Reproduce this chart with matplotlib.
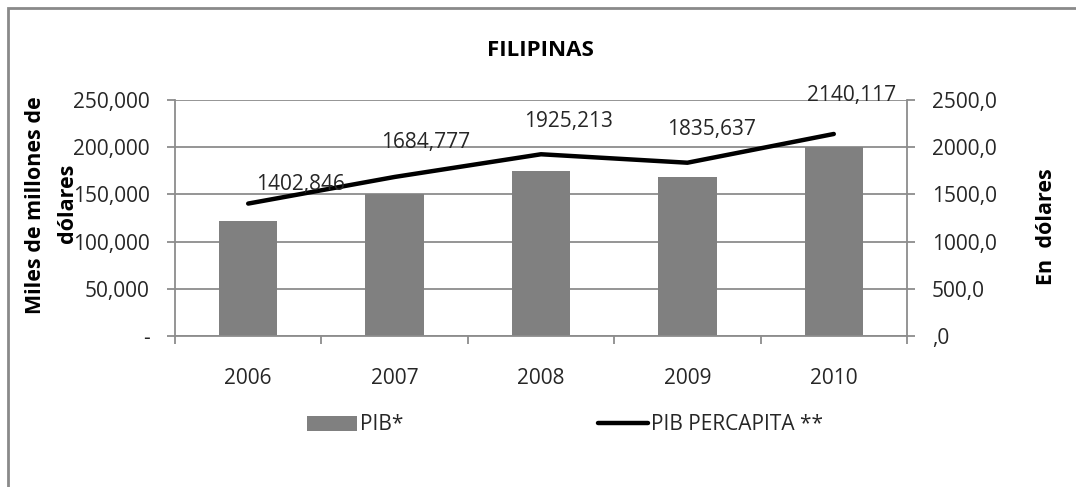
import matplotlib
matplotlib.use("Agg")
import matplotlib.pyplot as plt
from matplotlib.patches import Rectangle
from matplotlib.ticker import FixedLocator

years = ["2006", "2007", "2008", "2009", "2010"]
pib = [122000, 150000, 174500, 168500, 200500]
pib_percapita = [1402.846, 1684.777, 1925.213, 1835.637, 2140.117]
pib_labels = ["1402,846", "1684,777", "1925,213", "1835,637", "2140,117"]
left_ticks = [0, 50000, 100000, 150000, 200000, 250000]
left_ticklabels = ["-", "50,000", "100,000", "150,000", "200,000", "250,000"]
right_ticks = [0, 500, 1000, 1500, 2000, 2500]
right_ticklabels = [",0", "500,0", "1000,0", "1500,0", "2000,0", "2500,0"]

# label offsets in pixels (layout)
label_offsets = [(52, 19), (31, 34), (28, 33), (24, 33), (18, 38)]

plt.rcParams['font.family'] = ['Open Sans', 'DejaVu Sans']
GRID = "#8c8c8c"
TXT = "#262626"

fig = plt.figure(figsize=(10.76, 4.87), dpi=100)
ax = fig.add_axes([175/1076, 1-336/487, (907-175)/1076, (336-100)/487])

x = list(range(len(years)))
bars = ax.bar(x, pib, width=0.4, color="#808080", zorder=2, label="PIB*")
ax.set_xlim(-0.5, 4.5)
ax.set_ylim(0, 250000)
ax.set_yticks(left_ticks)
ax.set_yticklabels(left_ticklabels, fontsize=15, color=TXT)
ax.set_xticks(x)
ax.set_xticklabels(years, fontsize=15, color=TXT)
ax.xaxis.set_minor_locator(FixedLocator([-0.5, 0.5, 1.5, 2.5, 3.5, 4.5]))
ax.tick_params(axis='x', which='major', length=0, pad=23)
ax.tick_params(axis='x', which='minor', length=6, width=1.3, color=GRID, direction='out')
ax.tick_params(axis='y', length=6, width=1.3, color=GRID, pad=12)
ax.grid(axis='y', color=GRID, linewidth=1.3, zorder=0)
ax.set_axisbelow(True)
for s in ['top', 'right']:
    ax.spines[s].set_visible(False)
for s in ['left', 'bottom']:
    ax.spines[s].set_color(GRID)
    ax.spines[s].set_linewidth(1.3)

ax2 = ax.twinx()
line, = ax2.plot(x, pib_percapita, color="black", linewidth=3.2,
                 solid_capstyle='round', zorder=3, label="PIB PERCAPITA **")
ax2.set_ylim(0, 2500)
ax2.set_yticks(right_ticks)
ax2.set_yticklabels(right_ticklabels, fontsize=15, color=TXT)
ax2.tick_params(axis='y', length=6, width=1.3, color=GRID, pad=12)
for s in ['top', 'left', 'bottom']:
    ax2.spines[s].set_visible(False)
ax2.spines['right'].set_color(GRID)
ax2.spines['right'].set_linewidth(1.3)

for xi, yi, lab, off in zip(x, pib_percapita, pib_labels, label_offsets):
    ax2.annotate(lab, (xi, yi), xytext=off, textcoords='offset pixels',
                 ha='center', va='center', fontsize=15, color=TXT)

fig.text(540/1076, 1-50/487, "FILIPINAS", ha='center', va='center',
         fontsize=16, fontweight='bold', color='black')
fig.text(36/1076, 1-205/487, "Miles de millones de", rotation=90, ha='center', va='center',
         fontsize=15.5, fontweight='bold', color='black')
fig.text(67/1076, 1-203/487, "dólares", rotation=90, ha='center', va='center',
         fontsize=15.5, fontweight='bold', color='black')
fig.text(1047/1076, 1-227/487, "En  dólares", rotation=90, ha='center', va='center',
         fontsize=15.5, fontweight='bold', color='black')

leg = fig.legend(handles=[bars, line], loc='center', bbox_to_anchor=(565/1076, 1-425/487),
                 ncol=2, frameon=False, fontsize=15, handlelength=2.4, handletextpad=0.15,
                 columnspacing=9.3, labelcolor=TXT)

fig.patches.append(Rectangle((8/1076, -0.2), 1.2, 1.2 - 8/487, transform=fig.transFigure,
                             fill=False, edgecolor="#8a8a8a", linewidth=2, clip_on=False))

fig.savefig("out.png", dpi=100, facecolor="white")
